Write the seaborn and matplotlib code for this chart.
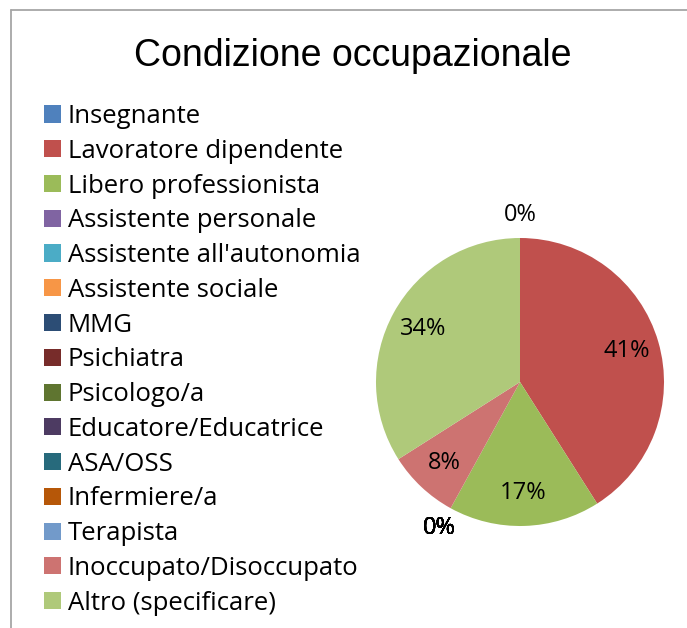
import matplotlib
matplotlib.use("Agg")
import matplotlib.pyplot as plt
import seaborn as sns
from matplotlib.lines import Line2D

# ---- data ----
categories = [
    "Insegnante", "Lavoratore dipendente", "Libero professionista",
    "Assistente personale", "Assistente all'autonomia", "Assistente sociale",
    "MMG", "Psichiatra", "Psicologo/a", "Educatore/Educatrice", "ASA/OSS",
    "Infermiere/a", "Terapista", "Inoccupato/Disoccupato", "Altro (specificare)",
]
values = [0, 41, 17, 0, 0, 0, 0, 0, 0, 0, 0, 0, 0, 8, 34]
colors = [
    "#4F81BD", "#C0504D", "#9BBB59", "#8064A2", "#4BACC6", "#F79646",
    "#2C4D75", "#772C2A", "#5F7530", "#4D3B62", "#276A7C", "#B65708",
    "#729ACA", "#CD7371", "#AFC97A",
]
title = "Condizione occupazionale"

sns.set_theme(style="white")
plt.rcParams["font.family"] = ["Open Sans", "DejaVu Sans"]
plt.rcParams["text.color"] = "black"
palette = sns.color_palette(colors)

W, H = 687, 628
fig = plt.figure(figsize=(W / 100, H / 100), dpi=100)

# pie axes: center (520, 382) px, radius 144 px
cx, cy, R, L = 520, 382, 144, 1.15
S = 2 * L * R
ax = fig.add_axes([(cx - S / 2) / W, (H - cy - S / 2) / H, S / W, S / H])

zero_labels = ["0%" if v == 0 else "" for v in values]
wedges, texts, autotexts = ax.pie(
    values, colors=palette, startangle=90, counterclock=False,
    labels=zero_labels, labeldistance=1.16,
    autopct=lambda p: f"{p:.0f}%" if p > 0 else "", pctdistance=0.77,
    textprops=dict(fontsize=17, color="black"),
    wedgeprops=dict(linewidth=0),
)
for t in texts:
    t.set_ha("center")
    t.set_va("center")
ax.set_xlim(-L, L)
ax.set_ylim(-L, L)
ax.set_aspect("equal")
ax.axis("off")

fig.legend(
    wedges, categories, loc="upper left",
    bbox_to_anchor=(44 / W, 1 - 104 / H), frameon=False,
    fontsize=18.5, handlelength=0.65, handleheight=0.65,
    handletextpad=0.27, labelspacing=0.38, borderaxespad=0, borderpad=0,
)

fig.text(353 / W, 1 - 56 / H, title, ha="center", va="center",
         fontsize=27, color="black", family=["Liberation Sans", "DejaVu Sans"])

# frame
fx, fy = 11 / W, 1 - 10 / H
fig.add_artist(Line2D([fx, fx], [0, fy], color="#A6A6A6", lw=1.3))
fig.add_artist(Line2D([fx, 1], [fy, fy], color="#A6A6A6", lw=1.3))

fig.savefig("out.png", dpi=100)
